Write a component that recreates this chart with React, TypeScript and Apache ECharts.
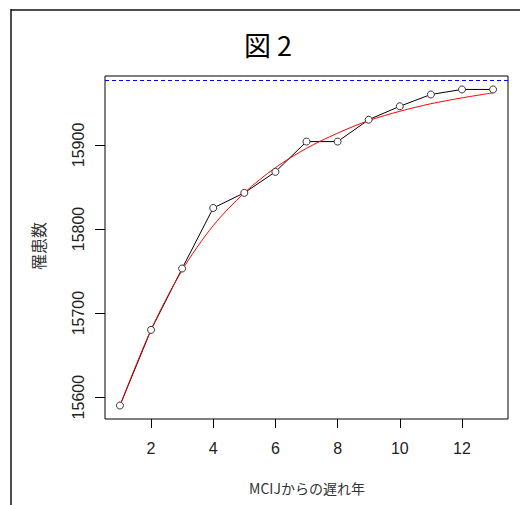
import React, { useEffect, useRef } from "react";
import * as echarts from "echarts";

const years = [1, 2, 3, 4, 5, 6, 7, 8, 9, 10, 11, 12, 13];
const observed = [15590, 15680, 15753, 15825, 15843, 15868, 15904, 15904, 15930, 15946, 15960, 15966, 15966];
const fitted = [15590, 15680, 15751, 15804, 15843, 15873, 15896, 15914, 15929, 15940, 15949, 15956, 15962];
const asymptote = 15977;
const xTicks = [2, 4, 6, 8, 10, 12];
const yTicks = [15600, 15700, 15800, 15900];

export default function App() {
  const ref = useRef<HTMLDivElement>(null);
  useEffect(() => {
    if (!ref.current) return;
    const chart = echarts.init(ref.current, null, { renderer: "svg" });
    const numFont = "Liberation Sans";
    const cjkFont = "Noto Sans CJK JP";
    chart.setOption({
      animation: false,
      backgroundColor: "#fff",
      grid: {
        left: 105,
        right: 12,
        top: 76,
        bottom: 86,
        show: true,
        borderColor: "#000",
        borderWidth: 1,
        backgroundColor: "transparent",
      },
      xAxis: {
        type: "value",
        min: 0.52,
        max: 13.48,
        splitLine: { show: false },
        axisLine: { show: false },
        axisTick: { show: true, inside: false, length: 9, lineStyle: { color: "#000" }, customValues: xTicks },
        axisLabel: {
          customValues: xTicks,
          fontSize: 16,
          color: "#222",
          fontFamily: numFont,
          margin: 21,
          formatter: (v: number) => String(v),
        },
      },
      yAxis: {
        type: "value",
        min: 15574,
        max: 15982,
        splitLine: { show: false },
        axisLine: { show: false },
        axisTick: { show: true, inside: false, length: 10, lineStyle: { color: "#000" }, customValues: yTicks },
        axisLabel: {
          customValues: yTicks,
          rotate: 90,
          fontSize: 16,
          color: "#222",
          fontFamily: numFont,
          margin: 19,
          formatter: (v: number) => String(v),
        },
      },
      series: [
        {
          type: "line",
          data: years.map((x, i) => [x, observed[i]]),
          symbol: "circle",
          symbolSize: 7,
          lineStyle: { color: "#000", width: 1 },
          itemStyle: { color: "#fff", borderColor: "#333", borderWidth: 1 },
          markLine: {
            silent: true,
            symbol: "none",
            label: { show: false },
            lineStyle: { color: "#0000ff", type: [4, 3], width: 1 },
            data: [{ yAxis: asymptote }],
          },
        },
        {
          type: "line",
          data: years.map((x, i) => [x, fitted[i]]),
          symbol: "none",
          smooth: 0.3,
          lineStyle: { color: "#ff0000", width: 1 },
        },
      ],
      graphic: [
        { type: "line", shape: { x1: 11, y1: 9, x2: 11, y2: 505 }, style: { stroke: "#111", lineWidth: 1.5 } },
        { type: "line", shape: { x1: 11, y1: 10, x2: 520, y2: 10 }, style: { stroke: "#111", lineWidth: 1.5 } },
        {
          type: "text",
          x: 268,
          y: 44,
          style: {
            text: "図 2",
            fontSize: 27,
            fontFamily: cjkFont,
            fill: "#000",
            align: "center",
            verticalAlign: "middle",
          },
        },
        {
          type: "text",
          x: 38,
          y: 246,
          rotation: Math.PI / 2,
          style: {
            text: "罹患数",
            fontSize: 16,
            fontFamily: cjkFont,
            fill: "#333",
            align: "center",
            verticalAlign: "middle",
          },
        },
        {
          type: "text",
          x: 307,
          y: 488,
          style: {
            text: "MCIJからの遅れ年",
            fontSize: 14,
            fontFamily: cjkFont,
            fill: "#333",
            align: "center",
            verticalAlign: "middle",
          },
        },
      ],
    });
    return () => chart.dispose();
  }, []);
  return (
    <div
      ref={ref}
      style={{ position: "fixed", left: 0, top: 0, width: 520, height: 505 }}
    />
  );
}
